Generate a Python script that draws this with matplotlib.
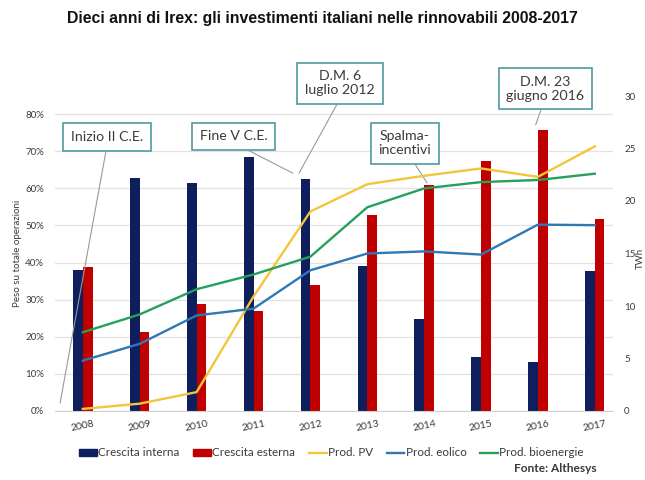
import matplotlib
matplotlib.use("Agg")
import matplotlib.pyplot as plt
import numpy as np
from matplotlib.patches import Patch
from matplotlib.lines import Line2D

# --- data -------------------------------------------------------------
years = ["2008", "2009", "2010", "2011", "2012", "2013", "2014", "2015", "2016", "2017"]
crescita_interna = [0.380, 0.629, 0.615, 0.685, 0.624, 0.391, 0.247, 0.146, 0.133, 0.378]
crescita_esterna = [0.389, 0.214, 0.288, 0.269, 0.340, 0.528, 0.610, 0.674, 0.757, 0.518]
prod_pv = [0.2, 0.7, 1.8, 10.9, 19.0, 21.6, 22.4, 23.1, 22.3, 25.2]
prod_eolico = [4.8, 6.4, 9.1, 9.75, 13.4, 15.0, 15.2, 14.9, 17.75, 17.7]
prod_bio = [7.5, 9.2, 11.6, 13.0, 14.7, 19.4, 21.2, 21.8, 22.0, 22.6]
left_ticks = [0.0, 0.1, 0.2, 0.3, 0.4, 0.5, 0.6, 0.7, 0.8]
right_ticks = [0, 5, 10, 15, 20, 25, 30]

events = [
    ("Inizio II C.E.", (0.42, 0.739), (-0.40, 0.022), 0.51),
    ("Fine V C.E.", (2.65, 0.740), (3.69, 0.641), 0.49),
    ("D.M. 6\nluglio 2012", (4.52, 0.883), (3.80, 0.641), 0.52),
    ("Spalma-\nincentivi", (5.66, 0.721), (6.05, 0.615), 0.60),
    ("D.M. 23\ngiugno 2016", (8.13, 0.869), (7.96, 0.771), 0.48),
]

# --- style ------------------------------------------------------------
C_INT = "#0f1f5e"
C_EST = "#c00000"
C_PV = "#f2c63a"
C_EOL = "#2f78b4"
C_BIO = "#25a05a"
C_BOX = "#4f9aa3"
TXT = "#3a3a3a"
GRID = "#e2e2e2"
FONT = ["Lato", "DejaVu Sans"]

plt.rcParams["font.family"] = FONT

fig = plt.figure(figsize=(6.45, 4.8), dpi=100)
ax = fig.add_axes([55 / 645, 69 / 480, 558 / 645, 315 / 480])
ax2 = ax.twinx()

x = np.arange(len(years))
bw = 0.17
ax.bar(x - bw / 2, crescita_interna, bw, color=C_INT, zorder=2)
ax.bar(x + bw / 2, crescita_esterna, bw, color=C_EST, zorder=2)

ax2.plot(x, prod_pv, color=C_PV, lw=1.7, zorder=3)
ax2.plot(x, prod_eolico, color=C_EOL, lw=1.7, zorder=3)
ax2.plot(x, prod_bio, color=C_BIO, lw=1.7, zorder=3)

ax.set_xlim(-0.49, 9.32)
ax.set_ylim(0, 0.849)
ax2.set_ylim(0, 30)

ax.set_yticks(left_ticks)
ax.set_yticklabels([f"{int(round(v * 100))}%" for v in left_ticks])
ax2.set_yticks(right_ticks)
ax2.set_yticklabels([str(v) for v in right_ticks])
ax.set_xticks(x)
ax.set_xticklabels(years, rotation=12)

ax.yaxis.grid(True, color=GRID, lw=0.9, zorder=0)
ax.set_axisbelow(True)
for a in (ax, ax2):
    for s in a.spines.values():
        s.set_visible(False)
    a.tick_params(length=0, colors=TXT, labelsize=7)
ax.spines["bottom"].set_visible(True)
ax.spines["bottom"].set_color("#d0d0d0")
ax.tick_params(axis="y", pad=8)
ax2.tick_params(axis="y", pad=8)
ax.tick_params(axis="x", pad=6, labelsize=7.5)

ax.set_ylabel("Peso su totale operazioni", fontsize=7, color=TXT, labelpad=2)
fig.text(640 / 645, 1 - 258 / 480, "TWh", rotation=90, fontsize=7, color=TXT,
         ha="center", va="center")

# callout boxes with leader lines
for label, txy, pxy, rx in events:
    ax.annotate(label, xy=pxy, xytext=txy, textcoords="data",
                ha="center", va="center", fontsize=10.2, color=TXT,
                linespacing=1.2, annotation_clip=False, zorder=5,
                bbox=dict(boxstyle="square,pad=0.55", fc="white", ec=C_BOX, lw=1.2),
                arrowprops=dict(arrowstyle="-", color="#9a9a9a", lw=0.8,
                                shrinkA=0, shrinkB=0, relpos=(rx, 0.0)))

fig.text(0.5, 1 - 18 / 480,
         "Dieci anni di Irex: gli investimenti italiani nelle rinnovabili 2008-2017",
         ha="center", va="center", fontsize=11.4, fontweight="bold",
         family=["Liberation Sans", "DejaVu Sans"], color="#111111")

handles = [
    Patch(color=C_INT, label="Crescita interna"),
    Patch(color=C_EST, label="Crescita esterna"),
    Line2D([], [], color=C_PV, lw=1.7, label="Prod. PV"),
    Line2D([], [], color=C_EOL, lw=1.7, label="Prod. eolico"),
    Line2D([], [], color=C_BIO, lw=1.7, label="Prod. bioenergie"),
]
fig.legend(handles=handles, loc="center", bbox_to_anchor=(0.514, 1 - 453 / 480),
           ncol=5, frameon=False, fontsize=8.4, handlelength=1.5, handleheight=0.6,
           handletextpad=0.1, columnspacing=1.2, labelcolor=TXT)

fig.text(597 / 645, 1 - 469 / 480, "Fonte: Althesys", ha="right", va="center",
         fontsize=8.6, fontweight="bold", color=TXT)

fig.savefig("out.png", dpi=100)
